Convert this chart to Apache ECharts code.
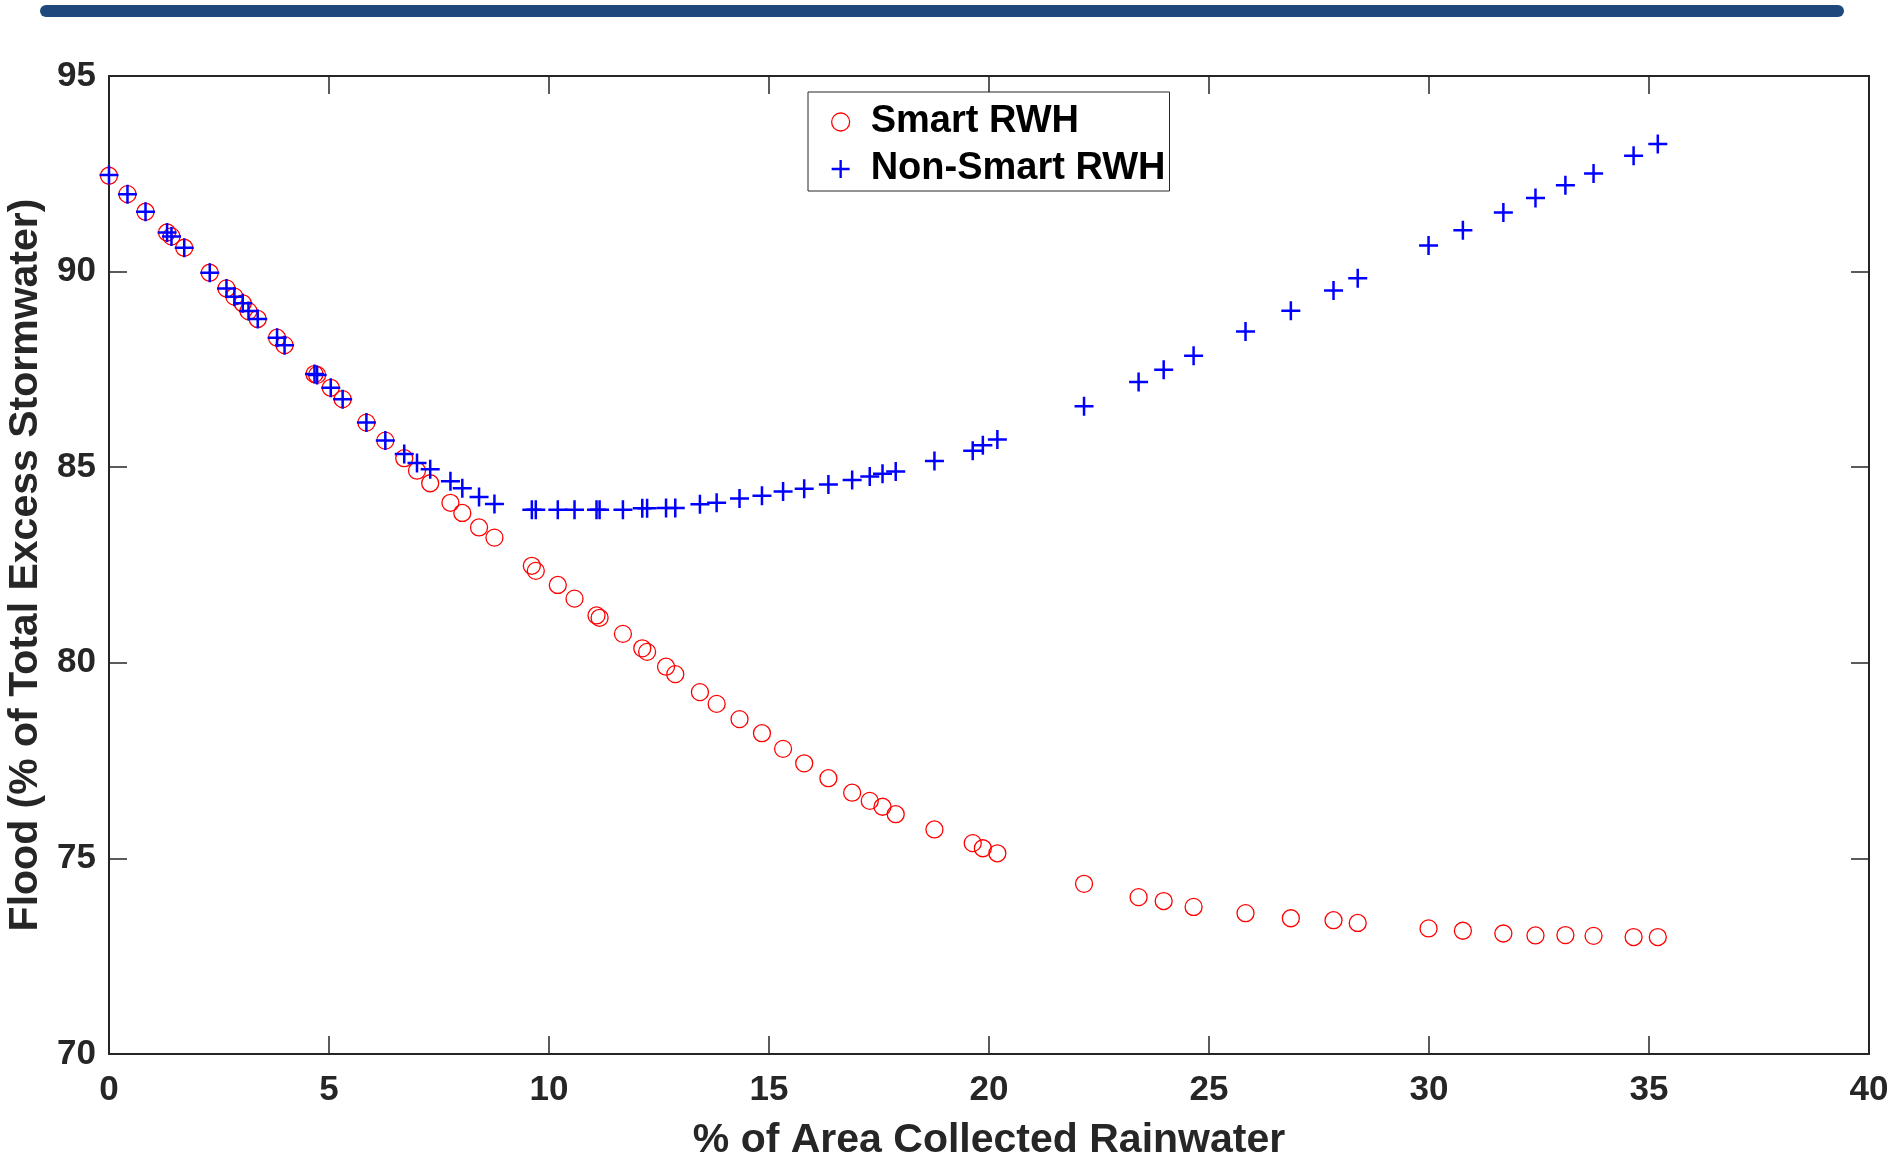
<!DOCTYPE html>
<html>
<head>
<meta charset="utf-8">
<script src="https://cdn.jsdelivr.net/npm/echarts@6/dist/echarts.min.js"></script>
<style>
  html, body { margin: 0; padding: 0; background: #ffffff; }
  #chart { width: 1893px; height: 1168px; }
</style>
</head>
<body>
<div id="chart"></div>
<script>
// ---- Data ----
const xValues = [0.00, 0.42, 0.83, 1.32, 1.42, 1.71, 2.29, 2.67, 2.85, 3.04, 3.17, 3.38, 3.82, 3.99,
  4.67, 4.73, 5.04, 5.31, 5.85, 6.28, 6.71, 7.00, 7.30, 7.76, 8.03, 8.41, 8.76, 9.61, 9.70, 10.20,
  10.58, 11.08, 11.15, 11.68, 12.12, 12.23, 12.66, 12.87, 13.43, 13.81, 14.33, 14.84, 15.32, 15.80,
  16.35, 16.89, 17.29, 17.58, 17.88, 18.76, 19.63, 19.86, 20.19, 22.16, 23.40, 23.97, 24.65, 25.83,
  26.86, 27.83, 28.38, 29.99, 30.77, 31.69, 32.42, 33.10, 33.74, 34.65, 35.20];

const smartRWH = [92.45, 91.98, 91.53, 91.00, 90.90, 90.61, 89.97, 89.57, 89.36, 89.19, 88.99, 88.79, 88.31, 88.12,
  87.38, 87.36, 87.03, 86.74, 86.14, 85.68, 85.23, 84.91, 84.59, 84.09, 83.83, 83.46, 83.20, 82.48, 82.35, 81.99,
  81.64, 81.21, 81.15, 80.74, 80.37, 80.28, 79.90, 79.71, 79.25, 78.95, 78.56, 78.20, 77.80, 77.43,
  77.05, 76.68, 76.47, 76.32, 76.13, 75.74, 75.39, 75.26, 75.13, 74.35, 74.01, 73.91, 73.76, 73.60,
  73.47, 73.42, 73.35, 73.21, 73.15, 73.08, 73.03, 73.04, 73.02, 72.99, 72.99];

const nonSmartRWH = [92.47, 91.98, 91.53, 91.00, 90.90, 90.61, 89.97, 89.57, 89.36, 89.19, 88.99, 88.79, 88.31, 88.12,
  87.38, 87.36, 87.03, 86.74, 86.14, 85.68, 85.34, 85.11, 84.95, 84.64, 84.46, 84.24, 84.06, 83.91, 83.91, 83.91,
  83.91, 83.91, 83.91, 83.91, 83.95, 83.95, 83.96, 83.96, 84.05, 84.09, 84.20, 84.27, 84.38, 84.45,
  84.56, 84.67, 84.76, 84.83, 84.89, 85.16, 85.42, 85.56, 85.71, 86.56, 87.18, 87.49, 87.85, 88.47,
  89.00, 89.52, 89.83, 90.67, 91.06, 91.51, 91.88, 92.21, 92.51, 92.96, 93.26];

const seriesNames = ['Smart RWH', 'Non-Smart RWH'];
const xTitle = '% of Area Collected Rainwater';
const yTitle = 'Flood (% of Total Excess Stormwater)';
const xRange = { min: 0, max: 40, interval: 5 };
const yRange = { min: 70, max: 95, interval: 5 };

// ---- Styling ----
const FONT = 'Liberation Sans, Arial, Helvetica, sans-serif';
const AXIS_COLOR = '#262626';
const PLUS = 'path://M8.25,0H10.75V8.25H19V10.75H10.75V19H8.25V10.75H0V8.25H8.25Z';

const smartData = xValues.map((x, i) => [x, smartRWH[i]]);
const nonSmartData = xValues.map((x, i) => [x, nonSmartRWH[i]]);

function axisCommon(extra) {
  return Object.assign({
    type: 'value',
    axisLine: { show: true, onZero: false, lineStyle: { color: AXIS_COLOR, width: 2 } },
    axisTick: { show: true, inside: true, length: 18, lineStyle: { color: AXIS_COLOR, width: 1.5 } },
    splitLine: { show: false },
    axisLabel: { show: false }
  }, extra);
}

const chart = echarts.init(document.getElementById('chart'), null, { renderer: 'canvas' });

const option = {
  animation: false,
  backgroundColor: '#ffffff',
  grid: { left: 109, right: 24, top: 76, bottom: 114, outerBoundsMode: 'none', containLabel: false },
  graphic: [{
    type: 'rect',
    shape: { x: 40, y: 5, width: 1804, height: 12, r: 6 },
    style: { fill: '#1f497d' },
    silent: true
  }],
  legend: {
    orient: 'vertical',
    left: 808,
    top: 92,
    padding: [10, 4, 2, 23],
    itemGap: 7,
    itemWidth: 50,
    itemHeight: 18,
    backgroundColor: '#ffffff',
    borderColor: AXIS_COLOR,
    borderWidth: 1,
    borderRadius: 0,
    selectedMode: false,
    textStyle: { fontFamily: FONT, fontSize: 38, fontWeight: 'bold', color: '#000000', lineHeight: 40 },
    data: [
      { name: seriesNames[0], icon: 'circle',
        itemStyle: { color: 'rgba(255,255,255,0)', borderColor: '#ff0000', borderWidth: 1.3 } },
      { name: seriesNames[1], icon: PLUS,
        itemStyle: { color: '#0000ff', borderWidth: 0 } }
    ]
  },
  xAxis: [
    axisCommon(Object.assign({}, xRange, {
      position: 'bottom',
      axisLabel: { show: true, margin: 19, fontFamily: FONT, fontSize: 35, fontWeight: 'bold', color: AXIS_COLOR },
      name: xTitle,
      nameLocation: 'middle',
      nameGap: 66,
      nameTextStyle: { fontFamily: FONT, fontSize: 41, fontWeight: 'bold', color: AXIS_COLOR, lineHeight: 41 }
    })),
    axisCommon(Object.assign({}, xRange, { position: 'top' }))
  ],
  yAxis: [
    axisCommon(Object.assign({}, yRange, {
      position: 'left',
      axisLabel: { show: true, margin: 13, fontFamily: FONT, fontSize: 35, fontWeight: 'bold', color: AXIS_COLOR },
      name: yTitle,
      nameLocation: 'middle',
      nameGap: 57,
      nameTextStyle: { fontFamily: FONT, fontSize: 41, fontWeight: 'bold', color: AXIS_COLOR, lineHeight: 41 }
    })),
    axisCommon(Object.assign({}, yRange, { position: 'right' }))
  ],
  series: [
    {
      name: seriesNames[0],
      type: 'scatter',
      xAxisIndex: 0, yAxisIndex: 0,
      symbol: 'circle',
      symbolSize: 17,
      itemStyle: { color: 'rgba(255,255,255,0)', borderColor: '#ff0000', borderWidth: 1.3, opacity: 1 },
      emphasis: { disabled: true },
      data: smartData,
      z: 2
    },
    {
      name: seriesNames[1],
      type: 'scatter',
      xAxisIndex: 0, yAxisIndex: 0,
      symbol: PLUS,
      symbolSize: 19,
      itemStyle: { color: '#0000ff', borderWidth: 0, opacity: 1 },
      emphasis: { disabled: true },
      data: nonSmartData,
      z: 3
    }
  ]
};

chart.setOption(option);
</script>
</body>
</html>
